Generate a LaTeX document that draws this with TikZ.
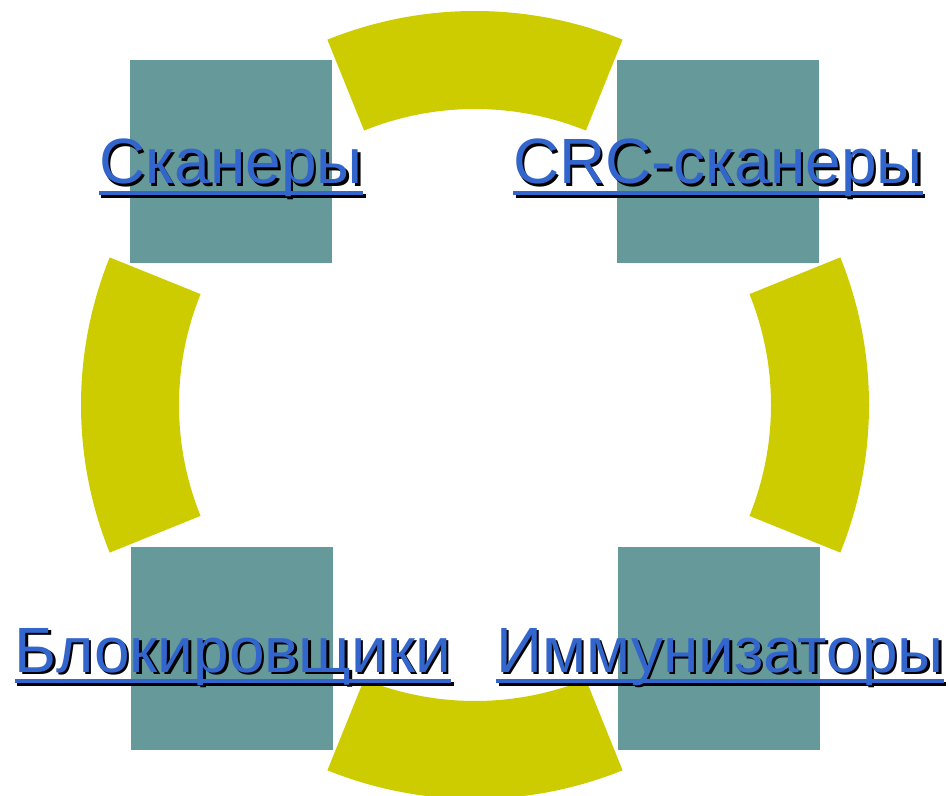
\documentclass[tikz,border=0pt]{standalone}
\usepackage{fontspec}
\setmainfont{Liberation Sans}
\usetikzlibrary{calc}
\definecolor{teal1}{HTML}{669999}
\definecolor{yel1}{HTML}{CCCC00}
\definecolor{blu1}{HTML}{3366CC}
\begin{document}
\begin{tikzpicture}[x=1pt,y=1pt,
  sq/.style={fill=teal1,draw=none},
  seg/.style={fill=yel1,draw=none},
  lbl/.style={inner sep=0pt,anchor=base,font=\fontsize{64}{64}\selectfont,text=blu1},
  shd/.style={inner sep=0pt,anchor=base,font=\fontsize{64}{64}\selectfont,text=black}]
\useasboundingbox (0,0) rectangle (949,795);
% squares
\fill[sq] (130,735) rectangle (332,532);
\fill[sq] (617,735) rectangle (819,532);
\fill[sq] (131,248) rectangle (333,45);
\fill[sq] (618,248) rectangle (820,45);
% ring segments
\coordinate (c) at (475,390);
\foreach \a in {0,90,180,270}{
  \fill[seg] ($(c)+(\a-22:394)$) arc[start angle=\a-22,end angle=\a+22,radius=394]
    -- ($(c)+(\a+22:296)$) arc[start angle=\a+22,end angle=\a-22,radius=296] -- cycle;
}
% labels
\foreach \n/\x/\y/\t in {a/231/611/Сканеры, b/718/611/CRC-сканеры, c2/233/123/Блокировщики, d/720/123/Иммунизаторы}{
  \node[shd] (\n s) at (\x+2.5,\y-2.5) {\t};
  \fill[black] ([yshift=-7.5pt]\n s.base west) rectangle ([yshift=-11.5pt]\n s.base east);
  \node[lbl] (\n) at (\x,\y) {\t};
  \fill[blu1] ([yshift=-7pt]\n.base west) rectangle ([yshift=-11pt]\n.base east);
}
\end{tikzpicture}
\end{document}
